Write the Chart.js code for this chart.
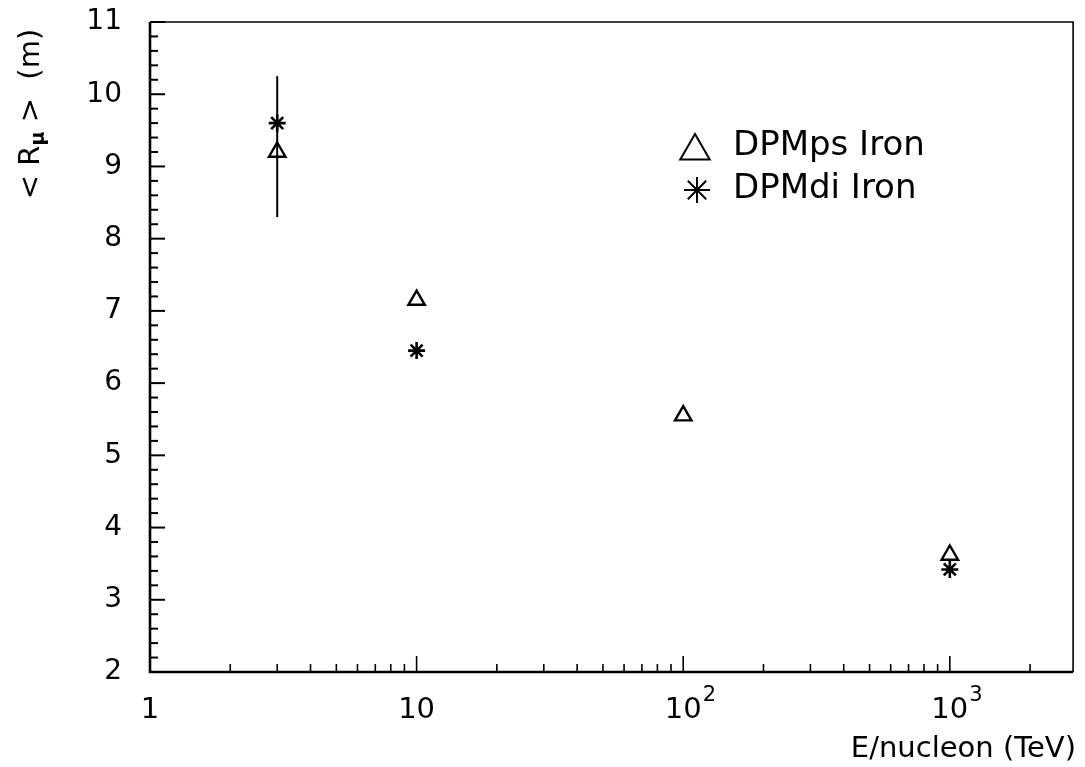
<!DOCTYPE html>
<html>
<head>
<meta charset="utf-8">
<script src="https://cdn.jsdelivr.net/npm/chart.js@4/dist/chart.umd.min.js"></script>
<style>
  html, body { margin: 0; padding: 0; background: #fff; }
  #wrap { width: 1085px; height: 767px; }
</style>
</head>
<body>
<div id="wrap"><canvas id="c" width="1085" height="767"></canvas></div>
<script>
// Mean muon lateral distance versus energy per nucleon, iron primaries
const energies = [3, 10, 100, 1000];               // TeV per nucleon
const dpmpsIron = [9.2, 7.15, 5.55, 3.62];          // <R_mu> (m)
const dpmdiIron = [9.6, 6.45, null, 3.42];          // <R_mu> (m)
const dpmpsErrLow = [8.3, null, null, null];
const dpmpsErrHigh = [10.25, null, null, null];

const seriesNames = ['DPMps Iron', 'DPMdi Iron'];
const decadeValues = [1, 10, 100, 1000];
const decadeBase = ['1', '10', '10', '10'];
const decadeExp = ['', '', '2', '3'];
const xTitle = 'E/nucleon (TeV)';
const yTitleParts = ['< R', '\u03BC', ' >  (m)'];

const FONT = '"DejaVu Sans", "Liberation Sans", sans-serif';
const PLOT_TOP = 22;

const toPoints = (ys) => energies
  .map((e, i) => ({ x: e, y: ys[i] }))
  .filter(p => p.y !== null);

// Frame, inward tick marks, tick labels, error bar, legend and axis titles
const decor = {
  id: 'decor',
  beforeDatasetsDraw(chart) {
    const { ctx, scales: { x, y } } = chart;
    ctx.save();
    ctx.strokeStyle = '#000';
    ctx.lineWidth = 2;
    energies.forEach((e, i) => {
      if (dpmpsErrLow[i] === null) return;
      const px = x.getPixelForValue(e);
      ctx.beginPath();
      ctx.moveTo(px, y.getPixelForValue(dpmpsErrLow[i]));
      ctx.lineTo(px, y.getPixelForValue(dpmpsErrHigh[i]));
      ctx.stroke();
    });
    ctx.restore();
  },
  afterDraw(chart) {
    const { ctx, chartArea: a, scales: { x, y } } = chart;
    ctx.save();
    ctx.strokeStyle = '#000';
    ctx.fillStyle = '#000';
    ctx.lineCap = 'butt';

    // frame
    ctx.lineWidth = 1.6;
    ctx.beginPath();
    ctx.moveTo(a.left, a.top); ctx.lineTo(a.right, a.top); ctx.lineTo(a.right, a.bottom);
    ctx.stroke();
    ctx.lineWidth = 2.6;
    ctx.beginPath();
    ctx.moveTo(a.left, a.top); ctx.lineTo(a.left, a.bottom); ctx.lineTo(a.right, a.bottom);
    ctx.stroke();

    // y ticks: majors every 1, minors every 0.2
    ctx.lineWidth = 2;
    const nY = Math.round((y.max - y.min) * 5);
    for (let i = 0; i <= nY; i++) {
      const v = y.min + i * 0.2;
      const py = y.getPixelForValue(v);
      const len = (i % 5 === 0) ? 15 : 8;
      ctx.beginPath();
      ctx.moveTo(a.left, py); ctx.lineTo(a.left + len, py);
      ctx.stroke();
    }

    // x ticks: 1..9 per decade on log axis
    ctx.lineWidth = 1.6;
    const d0 = Math.floor(Math.log10(x.min));
    const d1 = Math.ceil(Math.log10(x.max));
    for (let d = d0; d <= d1; d++) {
      for (let m = 1; m <= 9; m++) {
        const v = m * Math.pow(10, d);
        if (v < x.min - 1e-9 || v > x.max) continue;
        const px = x.getPixelForValue(v);
        const len = (m === 1) ? 16 : 8;
        ctx.beginPath();
        ctx.moveTo(px, a.bottom); ctx.lineTo(px, a.bottom - len);
        ctx.stroke();
      }
    }

    // x decade labels, base centred on the tick, exponent raised
    ctx.textBaseline = 'alphabetic';
    decadeValues.forEach((v, k) => {
      if (v < x.min || v > x.max) return;
      const px = x.getPixelForValue(v);
      ctx.font = '29px ' + FONT;
      ctx.textAlign = 'center';
      ctx.fillText(decadeBase[k], px, 718);
      if (decadeExp[k]) {
        const bw = ctx.measureText(decadeBase[k]).width;
        ctx.font = '21px ' + FONT;
        ctx.textAlign = 'left';
        ctx.fillText(decadeExp[k], px + bw / 2 + 1, 701);
      }
    });

    // legend
    const ds = chart.data.datasets;
    const legendRows = [
      { sx: 695, sy: 151, ty: 146, r: 17 },
      { sx: 697, sy: 190, ty: 189, r: 13 }
    ];
    legendRows.forEach((row, i) => {
      ctx.lineWidth = 2;
      ctx.strokeStyle = '#000';
      ctx.fillStyle = 'rgba(0,0,0,0)';
      Chart.helpers.drawPoint(ctx, {
        pointStyle: ds[i].pointStyle, radius: row.r, rotation: 0, borderWidth: 2
      }, row.sx, row.sy);
      ctx.fillStyle = '#000';
      ctx.font = '34px ' + FONT;
      ctx.textAlign = 'left';
      ctx.textBaseline = 'middle';
      ctx.fillText(seriesNames[i], 733, row.ty);
    });

    // x title
    ctx.font = '29px ' + FONT;
    ctx.textAlign = 'right';
    ctx.textBaseline = 'middle';
    ctx.fillText(xTitle, 1076, 749);

    // y title with subscript mu
    ctx.translate(31, 114);
    ctx.rotate(-Math.PI / 2);
    const big = '29px ' + FONT, small = 'bold 19px ' + FONT;
    ctx.font = big; const w0 = ctx.measureText(yTitleParts[0]).width;
    ctx.font = small; const w1 = ctx.measureText(yTitleParts[1]).width;
    ctx.font = big; const w2 = ctx.measureText(yTitleParts[2]).width;
    let tx = -(w0 + w1 + w2) / 2;
    ctx.textAlign = 'left';
    ctx.textBaseline = 'middle';
    ctx.font = big; ctx.fillText(yTitleParts[0], tx, 0); tx += w0;
    ctx.font = small; ctx.fillText(yTitleParts[1], tx, 8); tx += w1;
    ctx.font = big; ctx.fillText(yTitleParts[2], tx, 0);
    ctx.restore();
  }
};

new Chart(document.getElementById('c'), {
  type: 'scatter',
  data: {
    datasets: [
      {
        label: seriesNames[0],
        data: toPoints(dpmpsIron),
        pointStyle: 'triangle',
        pointRadius: 9.5,
        pointBorderWidth: 2.4,
        borderColor: '#000',
        backgroundColor: 'rgba(0,0,0,0)',
        clip: false
      },
      {
        label: seriesNames[1],
        data: toPoints(dpmdiIron),
        pointStyle: 'star',
        pointRadius: 8.5,
        pointBorderWidth: 2.6,
        borderColor: '#000',
        backgroundColor: 'rgba(0,0,0,0)',
        clip: false
      }
    ]
  },
  options: {
    responsive: false,
    animation: false,
    events: [],
    layout: { padding: { left: 0, top: 0, right: 8, bottom: 0 } },
    plugins: { legend: { display: false }, tooltip: { enabled: false } },
    scales: {
      x: {
        type: 'logarithmic',
        min: 1,
        max: 2900,
        grid: { display: false, drawTicks: false },
        border: { display: false },
        afterBuildTicks: (scale) => {
          scale.ticks = decadeValues
            .filter(v => v >= scale.min && v <= scale.max)
            .map(v => ({ value: v }));
        },
        afterFit: (scale) => { scale.height = 95; },
        ticks: { display: false }
      },
      y: {
        type: 'linear',
        min: 2,
        max: 11,
        grid: { display: false, drawTicks: false },
        border: { display: false },
        afterFit: (scale) => {
          scale.width = 150;
          scale.paddingTop = PLOT_TOP;
        },
        ticks: {
          stepSize: 1,
          padding: 28,
          color: '#000',
          font: { family: FONT, size: 28 }
        }
      }
    }
  },
  plugins: [decor]
});
</script>
</body>
</html>
